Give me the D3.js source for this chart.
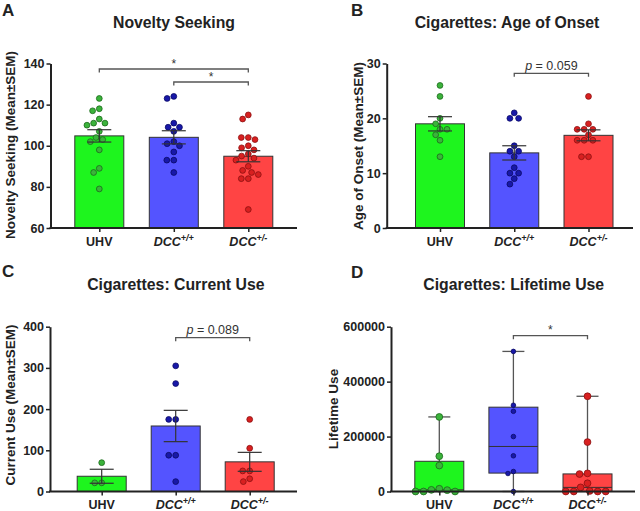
<!DOCTYPE html>
<html><head><meta charset="utf-8">
<script src="https://cdn.jsdelivr.net/npm/d3@7"></script>
<style>body{margin:0;background:#fff}svg{display:block}text{font-family:"Liberation Sans",Arial,Helvetica,sans-serif}</style>
</head><body><svg id="c" width="640" height="511"></svg>
<script>
// ---------- DATA ----------
const categories = ["UHV", "DCC+/+", "DCC+/-"];

// A: Novelty Seeking
const noveltyUHV = [123, 118, 117, 113, 111, 111, 110, 107, 104, 103, 102, 98, 89, 87, 79];
const noveltyWT  = [124, 123, 111, 109, 109, 107, 102, 101, 100, 97, 93, 93, 87];
const noveltyHet = [115, 113, 104, 104, 103, 100, 99, 98, 96, 95, 94, 93, 90, 88, 87, 86, 84, 84, 69];
const noveltyMean = [104.8, 104.1, 94.9];
const noveltySEM  = [3.0, 3.2, 2.7];
const noveltyTicks = [60, 80, 100, 120, 140];

// B: Age of Onset
const onsetUHV = [26, 24, 20, 19, 18, 18, 17, 16, 13];
const onsetWT  = [21, 20, 20, 15, 14, 14, 13, 11, 10, 10, 9, 8];
const onsetHet = [24, 19, 18, 18, 18, 17, 16, 16, 16, 13, 13];
const onsetMean = [19.0, 13.7, 16.9];
const onsetSEM  = [1.3, 1.3, 1.0];
const onsetTicks = [0, 10, 20, 30];

// C: Current Use
const currentUHV = [70, 21, 21];
const currentWT  = [305, 262, 175, 175, 88, 88, 24];
const currentHet = [175, 105, 50, 50, 31, 24];
const currentMean = [37, 159, 72];
const currentSEM  = [17, 38, 23];
const currentTicks = [0, 100, 200, 300, 400];

// D: Lifetime Use (box: min to max)
const lifetimeUHV = [271500, 128500, 94500, 10000, 6000, 5000, 0, 0, 0];
const lifetimeWT  = [510000, 314000, 292000, 200000, 130000, 72700, 65500, 0];
const lifetimeHet = [346700, 180000, 66000, 63600, 30000, 15000, 2000, 0, 0, 0, 0];
const lifetimeQ1     = [0, 67000, 0];
const lifetimeMedian = [6000, 164000, 15000];
const lifetimeQ3     = [110000, 307000, 64000];
const lifetimeTicks = [0, 200000, 400000, 600000];

// ---------- STYLE ----------
const barFill = ["#1ef51e", "#5454ff", "#ff4444"];
const dotFill = ["#3bb33b", "#1818a8", "#d82020"];
const dotStroke = ["#1c6a1c", "#0a0a66", "#8a1010"];
const ink = "#222";
const lineGray = "#555";

const panels = [
  {letter: "A", lx: 2, ly: 15.5, title: "Novelty Seeking", tx: 174, ty: 27.5,
   ylabel: "Novelty Seeking (Mean±SEM)", ylx: 10, yly: 145,
   ax0: 50.5, ax1: 297, yb: 228, yt: 63.5, c0: 99.3, c2: 248.3,
   domain: [60, 140], ticks: noveltyTicks, type: "bar",
   points: [noveltyUHV, noveltyWT, noveltyHet], mean: noveltyMean, sem: noveltySEM,
   r: [2.9, 2.9, 2.9],
   brackets: [{a: 0, b: 2, y: 69, label: "*", star: true}, {a: 1, b: 2, y: 82, label: "*", star: true}]},
  {letter: "B", lx: 351, ly: 15.5, title: "Cigarettes: Age of Onset", tx: 507, ty: 27.5,
   ylabel: "Age of Onset (Mean±SEM)", ylx: 358, yly: 146,
   ax0: 386.7, ax1: 633, yb: 228, yt: 63.5, c0: 440, c2: 588.5,
   domain: [0, 30], ticks: onsetTicks, type: "bar",
   points: [onsetUHV, onsetWT, onsetHet], mean: onsetMean, sem: onsetSEM,
   r: [2.9, 2.9, 2.9],
   brackets: [{a: 1, b: 2, y: 73.3, label: "0.059", star: false}]},
  {letter: "C", lx: 2, ly: 277, title: "Cigarettes: Current Use", tx: 175.8, ty: 290,
   ylabel: "Current Use (Mean±SEM)", ylx: 10, yly: 405,
   ax0: 50, ax1: 297, yb: 491.5, yt: 326.7, c0: 101.7, c2: 249.7,
   domain: [0, 400], ticks: currentTicks, type: "bar",
   points: [currentUHV, currentWT, currentHet], mean: currentMean, sem: currentSEM,
   r: [2.9, 2.9, 2.9],
   brackets: [{a: 1, b: 2, y: 337.7, label: "0.089", star: false}]},
  {letter: "D", lx: 351, ly: 278, title: "Cigarettes: Lifetime Use", tx: 513.7, ty: 290,
   ylabel: "Lifetime Use", ylx: 333, yly: 409,
   ax0: 391, ax1: 635, yb: 491.5, yt: 326.7, c0: 439.3, c2: 587.5,
   domain: [0, 600000], ticks: lifetimeTicks, type: "box",
   points: [lifetimeUHV, lifetimeWT, lifetimeHet],
   q1: lifetimeQ1, med: lifetimeMedian, q3: lifetimeQ3,
   r: [3.4, 2.3, 3.4],
   brackets: [{a: 1, b: 2, y: 335.7, label: "*", star: true}]}
];

const svg = d3.select("#c");

function swarm(ys, r, gap) {
  const d = 2 * r + gap;
  const placed = [];
  return ys.map(py => {
    const forb = [];
    placed.forEach(q => {
      const dy = Math.abs(q.y - py);
      if (dy < d) { const h = Math.sqrt(d * d - dy * dy); forb.push([q.x - h, q.x + h]); }
    });
    const cands = [0];
    forb.forEach(f => cands.push(f[0], f[1]));
    cands.sort((a, b) => (Math.abs(a) - Math.abs(b)) || (a - b));
    let xx = 0;
    for (const c of cands) {
      if (forb.every(f => c <= f[0] + 1e-6 || c >= f[1] - 1e-6)) { xx = c; break; }
    }
    placed.push({x: xx, y: py});
    return xx;
  });
}

function drawPanel(p) {
  const g = svg.append("g");
  const y = d3.scaleLinear().domain(p.domain).range([p.yb, p.yt]);
  const x = d3.scalePoint().domain(categories).range([p.c0, p.c2]);
  const bw = 49;

  if (p.type === "bar") {
    g.selectAll("rect.bar").data(categories).join("rect").attr("class", "bar")
      .attr("x", c => x(c) - bw / 2)
      .attr("y", (c, i) => y(p.mean[i]))
      .attr("width", bw)
      .attr("height", (c, i) => y(p.domain[0]) - y(p.mean[i]))
      .attr("fill", (c, i) => barFill[i])
      .attr("stroke", "#333").attr("stroke-width", 1);
  } else {
    categories.forEach((c, i) => {
      const [mn, mx] = d3.extent(p.points[i]);
      const cx = x(c);
      g.append("line").attr("x1", cx).attr("x2", cx).attr("y1", y(mn)).attr("y2", y(mx))
        .attr("stroke", lineGray).attr("stroke-width", 1.3);
      [mn, mx].forEach(v => g.append("line").attr("x1", cx - 11).attr("x2", cx + 11)
        .attr("y1", y(v)).attr("y2", y(v)).attr("stroke", lineGray).attr("stroke-width", 1.3));
      g.append("rect").attr("x", cx - bw / 2).attr("y", y(p.q3[i]))
        .attr("width", bw).attr("height", y(p.q1[i]) - y(p.q3[i]))
        .attr("fill", barFill[i]).attr("stroke", "#333").attr("stroke-width", 1);
      g.append("line").attr("x1", cx - bw / 2).attr("x2", cx + bw / 2)
        .attr("y1", y(p.med[i])).attr("y2", y(p.med[i])).attr("stroke", "#333").attr("stroke-width", 1);
    });
  }

  // dots
  categories.forEach((c, i) => {
    const r = p.r[i];
    const offs = swarm(p.points[i].map(v => y(v)), r, 1.2);
    g.append("g").selectAll("circle").data(p.points[i]).join("circle")
      .attr("cx", (v, j) => x(c) + offs[j])
      .attr("cy", v => y(v))
      .attr("r", r)
      .attr("fill", dotFill[i]).attr("stroke", dotStroke[i]).attr("stroke-width", 0.8);
  });

  // error bars
  if (p.type === "bar") {
    categories.forEach((c, i) => {
      const cx = x(c), lo = p.mean[i] - p.sem[i], hi = p.mean[i] + p.sem[i];
      g.append("line").attr("x1", cx).attr("x2", cx).attr("y1", y(lo)).attr("y2", y(hi))
        .attr("stroke", "#333").attr("stroke-width", 1.2);
      [lo, hi].forEach(v => g.append("line").attr("x1", cx - 12).attr("x2", cx + 12)
        .attr("y1", y(v)).attr("y2", y(v)).attr("stroke", "#333").attr("stroke-width", 1.2));
    });
  }

  // y axis
  const ya = g.append("g").attr("transform", `translate(${p.ax0},0)`)
    .call(d3.axisLeft(y).tickValues(p.ticks).tickSize(4).tickSizeOuter(0).tickPadding(2).tickFormat(d3.format("d")));
  ya.select(".domain").attr("stroke", ink).attr("stroke-width", 2);
  ya.selectAll(".tick line").attr("stroke", ink).attr("stroke-width", 1.5);
  ya.selectAll(".tick text").attr("fill", ink).attr("font-size", 12.5).attr("font-weight", "bold")
    .attr("font-family", '"Liberation Sans", Arial, sans-serif');

  // x axis
  const xa = g.append("g").attr("transform", `translate(0,${p.yb})`)
    .call(d3.axisBottom(x).tickSize(4).tickFormat(() => ""));
  xa.select(".domain").remove();
  xa.selectAll(".tick line").attr("stroke", ink).attr("stroke-width", 1.5);
  g.append("line").attr("x1", p.ax0 - 1).attr("x2", p.ax1).attr("y1", p.yb).attr("y2", p.yb)
    .attr("stroke", ink).attr("stroke-width", 2);

  categories.forEach(c => {
    const t = g.append("text").attr("x", x(c)).attr("y", p.yb + 17.5)
      .attr("text-anchor", "middle").attr("font-weight", "bold").attr("font-size", 12.5).attr("fill", ink);
    if (c === "UHV") t.text(c);
    else {
      t.attr("font-style", "italic");
      t.append("tspan").text("DCC");
      t.append("tspan").attr("dy", -5).attr("font-size", 9).text(c.slice(3));
    }
  });

  // brackets
  p.brackets.forEach(b => {
    const xa1 = x(categories[b.a]), xb1 = x(categories[b.b]);
    g.append("path").attr("d", `M${xa1},${b.y + 3.5}V${b.y}H${xb1}V${b.y + 3.5}`)
      .attr("fill", "none").attr("stroke", lineGray).attr("stroke-width", 1.3);
    if (b.star) {
      g.append("text").attr("x", (xa1 + xb1) / 2).attr("y", b.y - 1.5).attr("text-anchor", "middle")
        .attr("font-size", 12).attr("fill", "#333").text(b.label);
    } else {
      const t = g.append("text").attr("x", (xa1 + xb1) / 2).attr("y", b.y - 3.8).attr("text-anchor", "middle")
        .attr("font-size", 12.5).attr("fill", "#333");
      t.append("tspan").attr("font-style", "italic").text("p");
      t.append("tspan").text(" = " + b.label);
    }
  });

  // titles and labels
  g.append("text").attr("x", p.lx).attr("y", p.ly).attr("font-size", 17).attr("font-weight", "bold")
    .attr("fill", ink).text(p.letter);
  g.append("text").attr("x", p.tx).attr("y", p.ty).attr("text-anchor", "middle").attr("font-size", 15.8)
    .attr("font-weight", "bold").attr("fill", ink).text(p.title);
  g.append("text").attr("transform", `translate(${p.ylx},${p.yly}) rotate(-90)`)
    .attr("text-anchor", "middle").attr("dominant-baseline", "central")
    .attr("font-size", 13.5).attr("font-weight", "bold").attr("fill", ink).text(p.ylabel);
}

panels.forEach(drawPanel);
</script>
</body></html>
